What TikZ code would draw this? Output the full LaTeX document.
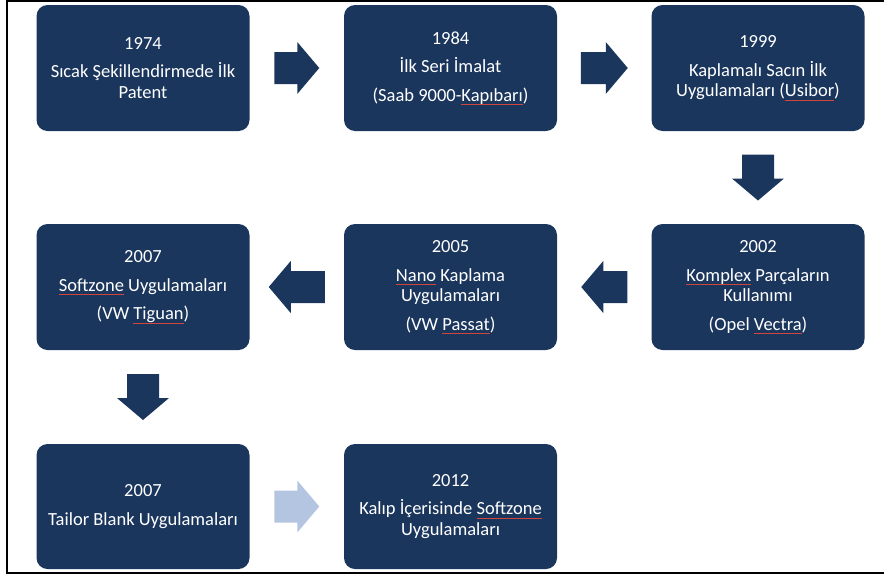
\documentclass[tikz,border=0pt]{standalone}
\usepackage{fontspec}
\setmainfont{Carlito}
\usetikzlibrary{calc}
\definecolor{navy}{HTML}{1B365D}
\definecolor{lightarr}{HTML}{B4C5E1}
\definecolor{sqred}{HTML}{D0453C}
\newcommand\sq[1]{\setbox0\hbox{#1}\rlap{\textcolor{sqred}{\rule[-3.5pt]{\wd0}{0.6pt}}}\box0\relax}
\tikzset{
  x=1pt, y=-1pt,
  stepbox/.style={draw=none, fill=navy, rounded corners=11pt, minimum width=213pt,
    minimum height=126pt, text=white, align=center, inner sep=0pt,
    font=\fontsize{18.5pt}{20.5pt}\selectfont},
  arrowlen/.store in=\arrowlen, arrowlen=45,
  pics/barrow/.style={code={
    \fill[pic actions] ({-\arrowlen/2},-16) -- ({\arrowlen/2-22},-16) -- ({\arrowlen/2-22},-26)
      -- ({\arrowlen/2},0) -- ({\arrowlen/2-22},26) -- ({\arrowlen/2-22},16)
      -- ({-\arrowlen/2},16) -- cycle;}}
}
\begin{document}
\begin{tikzpicture}
\useasboundingbox (0,0) rectangle (884,576);
% frame
\draw[line width=1.6pt, black] (884,573) -- (7,573) -- (7,1) -- (884,1);
% row 1
\node[stepbox] (b1) at (143,68) {1974\\[8pt]Sıcak Şekillendirmede İlk\\Patent};
\node[stepbox] (b2) at (450.5,68) {1984\\[8pt]İlk Seri İmalat\\[8pt](Saab 9000-\sq{Kapıbarı})};
\node[stepbox] (b3) at (758,68) {1999\\[8pt]Kaplamalı Sacın İlk\\Uygulamaları (\sq{Usibor})};
% row 2
\node[stepbox] (b4) at (758,287) {2002\\[8pt]\sq{Komplex} Parçaların\\Kullanımı\\[8pt](Opel \sq{Vectra})};
\node[stepbox] (b5) at (450.5,287) {2005\\[8pt]\sq{Nano} Kaplama\\Uygulamaları\\[8pt](VW \sq{Passat})};
\node[stepbox] (b6) at (143,287) {2007\\[8pt]\sq{Softzone} Uygulamaları\\[8pt](VW \sq{Tiguan})};
% row 3
\node[stepbox, minimum height=125pt] (b7) at (143,506.5) {2007\\[8pt]Tailor Blank Uygulamaları};
\node[stepbox, minimum height=125pt] (b8) at (450.5,506.5) {2012\\[8pt]Kalıp İçerisinde \sq{Softzone}\\Uygulamaları};
% block arrows
\pic[fill=navy, arrowlen=45] at ($(b1.east)!0.5!(b2.west)$) {barrow};
\pic[fill=navy, arrowlen=47] at ($(b2.east)!0.5!(b3.west)$) {barrow};
\pic[fill=navy, arrowlen=46, rotate=-90] at ($(b3.south)!0.5!(b4.north)$) {barrow};
\pic[fill=navy, arrowlen=46, rotate=180] at ($(b4.west)!0.5!(b5.east)$) {barrow};
\pic[fill=navy, arrowlen=56, rotate=180] at ($(b5.west)!0.5!(b6.east)$) {barrow};
\pic[fill=navy, arrowlen=46, rotate=-90] at ($(b6.south)!0.5!(b7.north)$) {barrow};
\pic[fill=lightarr, arrowlen=45] at ($(b7.east)!0.5!(b8.west)$) {barrow};
\end{tikzpicture}
\end{document}
